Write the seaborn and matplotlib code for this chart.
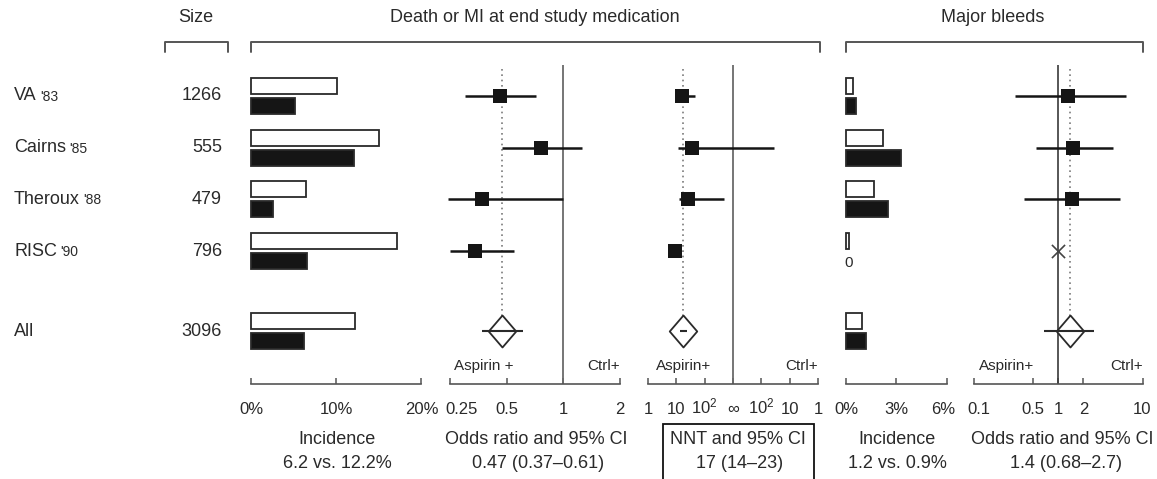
import numpy as np
import pandas as pd
import matplotlib
matplotlib.use("Agg")
import matplotlib.pyplot as plt
from matplotlib.lines import Line2D
from matplotlib.patches import Rectangle
from matplotlib.ticker import NullLocator
from matplotlib.transforms import ScaledTranslation
import seaborn as sns

# ---------------- data ----------------
studies = ["VA", "Cairns", "Theroux", "RISC", "All"]
years = ["'83", "'85", "'88", "'90", ""]
sizes = [1266, 555, 479, 796, 3096]
row_pos = [0, 1, 2, 3, 4.55]

# Death or MI: incidence (%)
inc_ctrl = [10.1, 15.1, 6.5, 17.2, 12.2]
inc_asp = [5.2, 12.1, 2.6, 6.6, 6.2]

# Death or MI: odds ratios and 95% CI
or_est = [0.46, 0.76, 0.37, 0.34]
or_lo = [0.30, 0.47, 0.245, 0.25]
or_hi = [0.72, 1.26, 1.00, 0.545]
or_all = [0.47, 0.37, 0.61]

# Death or MI: NNT (positive = benefit of aspirin, negative = harm)
nnt_est = [16, 36, 26, 9]
nnt_lo = [12, 11, 12, 8]
nnt_hi = [47, -36, 480, 10]
nnt_all = [17, 14, 23]

# Major bleeds: incidence (%)
bl_ctrl = [0.42, 2.2, 1.65, 0.2, 0.95]
bl_asp = [0.6, 3.25, 2.5, 0.0, 1.2]

# Major bleeds: odds ratios
bl_or_est = [1.3, 1.5, 1.45, 1.0]
bl_or_lo = [0.31, 0.55, 0.40, np.nan]
bl_or_hi = [6.3, 4.5, 5.4, np.nan]
bl_or_all = [1.4, 0.68, 2.7]
bl_zero_events = [False, False, False, True]

# tick labels
inc_ticks = [0, 10, 20]
inc_ticklabels = ["0%", "10%", "20%"]
or_ticks = [0.25, 0.5, 1, 2]
or_ticklabels = ["0.25", "0.5", "1", "2"]
nnt_ticks = [-3, -2, -1, 0, 1, 2, 3]
nnt_ticklabels = ["1", "10", r"$\mathregular{10^2}$", "∞", r"$\mathregular{10^2}$", "10", "1"]
bl_ticks = [0, 3, 6]
bl_ticklabels = ["0%", "3%", "6%"]
blor_ticks = [0.1, 0.5, 1, 2, 10]
blor_ticklabels = ["0.1", "0.5", "1", "2", "10"]

summary_inc = "6.2 vs. 12.2%"
summary_or = "0.47 (0.37–0.61)"
summary_nnt = "17 (14–23)"
summary_bl = "1.2 vs. 0.9%"
summary_blor = "1.4 (0.68–2.7)"

# ---------------- style ----------------
sns.set_theme(style="white")
plt.rcParams["font.family"] = ["Liberation Sans", "DejaVu Sans"]
plt.rcParams["mathtext.fontset"] = "custom"
plt.rcParams["mathtext.rm"] = "Liberation Sans"
plt.rcParams["mathtext.it"] = "Liberation Sans:italic"
plt.rcParams["mathtext.bf"] = "Liberation Sans:bold"
TXT = "#2a2a2a"
LINE = "#555555"
DARK = "#151515"
FS = 13
TFS = 12

W, H = 1157, 479
fig = plt.figure(figsize=(W / 100, H / 100), dpi=100)
fig.patch.set_facecolor("white")

Y_TOP, Y_BOT = 65, 384
ROW0_PX, ROW_STEP_PX = 96, 51.7
YLIM = ((Y_BOT - ROW0_PX) / ROW_STEP_PX, (Y_TOP - ROW0_PX) / ROW_STEP_PX)


def add_panel(px0, px1):
    ax = fig.add_axes([px0 / W, 1 - Y_BOT / H, (px1 - px0) / W, (Y_BOT - Y_TOP) / H])
    ax.patch.set_alpha(0)
    return ax


def lin_lim(px0, px1, a, b):
    return ((px0 - a) / b, (px1 - a) / b)


def log_lim(px0, px1, a, b, x0, base):
    return (x0 * base ** ((px0 - a) / b), x0 * base ** ((px1 - a) / b))


def style_axis(ax, ticks, labels, shifts=None):
    ax.set_ylim(*YLIM)
    ax.set_xticks(ticks)
    ax.set_xticklabels(labels)
    ax.xaxis.set_minor_locator(NullLocator())
    ax.set_yticks([])
    ax.set_xlabel("")
    ax.set_ylabel("")
    for s in ["left", "right", "top"]:
        ax.spines[s].set_visible(False)
    ax.spines["bottom"].set_bounds(ticks[0], ticks[-1])
    ax.spines["bottom"].set_color(LINE)
    ax.spines["bottom"].set_linewidth(1.2)
    ax.tick_params(axis="x", direction="in", length=4, width=1.1, color=LINE,
                   pad=21.5, labelsize=TFS, labelcolor=TXT, bottom=True)
    for i, tk in enumerate(ax.xaxis.get_major_ticks()):
        tk.label1.set_verticalalignment("baseline")
        if shifts and i in shifts:
            tk.label1.set_transform(tk.label1.get_transform()
                                    + ScaledTranslation(shifts[i] / 100, 0, fig.dpi_scale_trans))
    ax.grid(False)


def ftext(px, py, s, **kw):
    kw.setdefault("color", TXT)
    kw.setdefault("fontsize", FS)
    kw.setdefault("va", "center")
    fig.text(px / W, 1 - py / H, s, **kw)


def bracket(x0, x1, y=42, yt=52):
    fig.add_artist(Line2D([x0 / W, x0 / W, x1 / W, x1 / W],
                          [1 - yt / H, 1 - y / H, 1 - y / H, 1 - yt / H],
                          color=LINE, lw=1.4, transform=fig.transFigure))


def nnt_pos(n):
    n = np.asarray(n, dtype=float)
    return np.where(n > 0, -(3 - np.log10(np.abs(n))), 3 - np.log10(np.abs(n)))


def hide_empty_bars(ax):
    for p in ax.patches:
        if abs(p.get_width()) < 1e-9:
            p.set_visible(False)


diamond = [(0, 1), (0.86, 0), (0, -1), (-0.86, 0), (0, 1)]

# ---------------- labels column ----------------
ax0 = add_panel(0, 240)
ax0.set_xlim(0, 240)
ax0.set_ylim(*YLIM)
ax0.axis("off")
for name, yr, n, y in zip(studies, years, sizes, row_pos):
    t = ax0.text(14, y, name, ha="left", va="center", fontsize=FS, color=TXT)
    if yr:
        ax0.annotate(yr, xy=(1, 0), xycoords=t, xytext=(2.5, 0.5), textcoords="offset points",
                     ha="left", va="bottom", fontsize=10, color=TXT)
    ax0.text(222, y, f"{n}", ha="right", va="center", fontsize=FS, color=TXT)

# ---------------- panel 1: incidence ----------------
ax1 = add_panel(245, 428)
df_inc = pd.DataFrame({"row": row_pos * 2,
                       "group": ["Control"] * 5 + ["Aspirin"] * 5,
                       "pct": inc_ctrl + inc_asp})
sns.barplot(data=df_inc, x="pct", y="row", hue="group", hue_order=["Control", "Aspirin"],
            orient="h", native_scale=True, palette={"Control": "white", "Aspirin": DARK},
            edgecolor="#2a2a2a", linewidth=1.3, width=0.77, gap=0.2, errorbar=None,
            legend=False, ax=ax1)
hide_empty_bars(ax1)
ax1.set_xlim(*lin_lim(245, 428, 251, 8.5))
style_axis(ax1, inc_ticks, inc_ticklabels, shifts={2: 1})

# ---------------- panel 2: odds ratio ----------------
ax2 = add_panel(438, 632)
ax2.set_xscale("log", base=2)
ax2.set_xlim(*log_lim(438, 632, 450, 56.67, 0.25, 2))
ax2.axvline(1, color="#6a6a6a", lw=1.3, zorder=1)
ax2.vlines(or_all[0], YLIM[1] + 0.08, row_pos[4], colors="#7a7a7a", linestyles=(0, (1, 2.2)), lw=1.2, zorder=1)
ax2.hlines(row_pos[:4], or_lo, or_hi, colors=DARK, lw=1.8, zorder=3)
sns.scatterplot(x=or_est, y=row_pos[:4], marker="s", s=110, color=DARK, edgecolor=DARK,
                linewidth=0, zorder=4, legend=False, ax=ax2)
sns.scatterplot(x=[or_all[0]], y=[row_pos[4]], marker=diamond, s=530, color="white",
                edgecolor="#2a2a2a", linewidth=1.3, zorder=4, legend=False, ax=ax2)
ax2.hlines(row_pos[4], or_all[1], or_all[2], colors="#2a2a2a", lw=1.5, zorder=5)
style_axis(ax2, or_ticks, or_ticklabels, shifts={0: 12})

# ---------------- panel 3: NNT ----------------
ax3 = add_panel(640, 826)
ax3.set_xlim(*lin_lim(640, 826, 733, 28.33))
ax3.axvline(0, color="#6a6a6a", lw=1.3, zorder=1)
ax3.vlines(nnt_pos(nnt_all[0]), YLIM[1] + 0.08, row_pos[4], colors="#7a7a7a",
           linestyles=(0, (1, 2.2)), lw=1.2, zorder=1)
ax3.hlines(row_pos[:4], nnt_pos(nnt_lo), nnt_pos(nnt_hi), colors=DARK, lw=1.8, zorder=3)
sns.scatterplot(x=nnt_pos(nnt_est), y=row_pos[:4], marker="s", s=110, color=DARK, edgecolor=DARK,
                linewidth=0, zorder=4, legend=False, ax=ax3)
sns.scatterplot(x=nnt_pos([nnt_all[0]]), y=[row_pos[4]], marker=diamond, s=530, color="white",
                edgecolor="#2a2a2a", linewidth=1.3, zorder=4, legend=False, ax=ax3)
ax3.hlines(row_pos[4], nnt_pos(nnt_all[1]), nnt_pos(nnt_all[2]), colors="#2a2a2a", lw=1.5, zorder=5)
style_axis(ax3, nnt_ticks, nnt_ticklabels)

# ---------------- panel 4: bleed incidence ----------------
ax4 = add_panel(840, 958)
df_bl = pd.DataFrame({"row": row_pos * 2,
                      "group": ["Control"] * 5 + ["Aspirin"] * 5,
                      "pct": bl_ctrl + bl_asp})
sns.barplot(data=df_bl, x="pct", y="row", hue="group", hue_order=["Control", "Aspirin"],
            orient="h", native_scale=True, palette={"Control": "white", "Aspirin": DARK},
            edgecolor="#2a2a2a", linewidth=1.3, width=0.77, gap=0.2, errorbar=None,
            legend=False, ax=ax4)
hide_empty_bars(ax4)
ax4.set_xlim(*lin_lim(840, 958, 846, 16.83))
for v, y in zip(bl_asp, row_pos):
    if v == 0:
        ax4.text(0.18, y + 0.23, "0", ha="center", va="center", fontsize=11, color=TXT)
style_axis(ax4, bl_ticks, bl_ticklabels, shifts={2: -4})

# ---------------- panel 5: bleed odds ratio ----------------
ax5 = add_panel(965, 1152)
ax5.set_xscale("log", base=10)
ax5.set_xlim(*log_lim(965, 1152, 1058, 84.5, 1.0, 10))
ax5.axvline(1, color="#3a3a3a", lw=1.2, zorder=1)
ax5.vlines(bl_or_all[0], YLIM[1] + 0.08, row_pos[4], colors="#7a7a7a",
           linestyles=(0, (1, 2.2)), lw=1.2, zorder=1)
ax5.hlines(row_pos[:4], bl_or_lo, bl_or_hi, colors=DARK, lw=1.8, zorder=3)
est_x = [e for e, z in zip(bl_or_est, bl_zero_events) if not z]
est_y = [r for r, z in zip(row_pos[:4], bl_zero_events) if not z]
zero_x = [e for e, z in zip(bl_or_est, bl_zero_events) if z]
zero_y = [r for r, z in zip(row_pos[:4], bl_zero_events) if z]
sns.scatterplot(x=est_x, y=est_y, marker="s", s=110, color=DARK, edgecolor=DARK,
                linewidth=0, zorder=4, legend=False, ax=ax5)
sns.scatterplot(x=zero_x, y=zero_y, marker="x", s=90, color="#444444", linewidth=1.2,
                zorder=4, legend=False, ax=ax5)
sns.scatterplot(x=[bl_or_all[0]], y=[row_pos[4]], marker=diamond, s=530, color="white",
                edgecolor="#2a2a2a", linewidth=1.3, zorder=4, legend=False, ax=ax5)
ax5.hlines(row_pos[4], bl_or_all[1], bl_or_all[2], colors="#2a2a2a", lw=1.5, zorder=5)
style_axis(ax5, blor_ticks, blor_ticklabels, shifts={0: 5})

# ---------------- headers ----------------
ftext(196, 18, "Size", ha="center")
ftext(535, 18, "Death or MI at end study medication", ha="center")
ftext(993, 18, "Major bleeds", ha="center")
bracket(165, 228)
bracket(251, 820)
bracket(846, 1143)

# ---------------- Aspirin+/Ctrl+ ----------------
ftext(484, 366, "Aspirin +", ha="center", fontsize=11)
ftext(620, 366, "Ctrl+", ha="right", fontsize=11)
ftext(684, 366, "Aspirin+", ha="center", fontsize=11)
ftext(818, 366, "Ctrl+", ha="right", fontsize=11)
ftext(1007, 366, "Aspirin+", ha="center", fontsize=11)
ftext(1143, 366, "Ctrl+", ha="right", fontsize=11)

# ---------------- bottom titles ----------------
ftext(337, 440, "Incidence", ha="center")
ftext(337, 464, summary_inc, ha="center")
ftext(536, 440, "Odds ratio and 95% CI", ha="center")
ftext(538, 464, summary_or, ha="center")
ftext(738, 440, "NNT and 95% CI", ha="center")
ftext(740, 464, summary_nnt, ha="center")
ftext(897, 440, "Incidence", ha="center")
ftext(897, 464, summary_bl, ha="center")
ftext(1062, 440, "Odds ratio and 95% CI", ha="center")
ftext(1066, 464, summary_blor, ha="center")

fig.add_artist(Rectangle((663 / W, 1 - 495 / H), (814 - 663) / W, (495 - 424) / H,
                         fill=False, edgecolor="#111111", lw=1.3, transform=fig.transFigure))

fig.savefig("out.png", dpi=100)
